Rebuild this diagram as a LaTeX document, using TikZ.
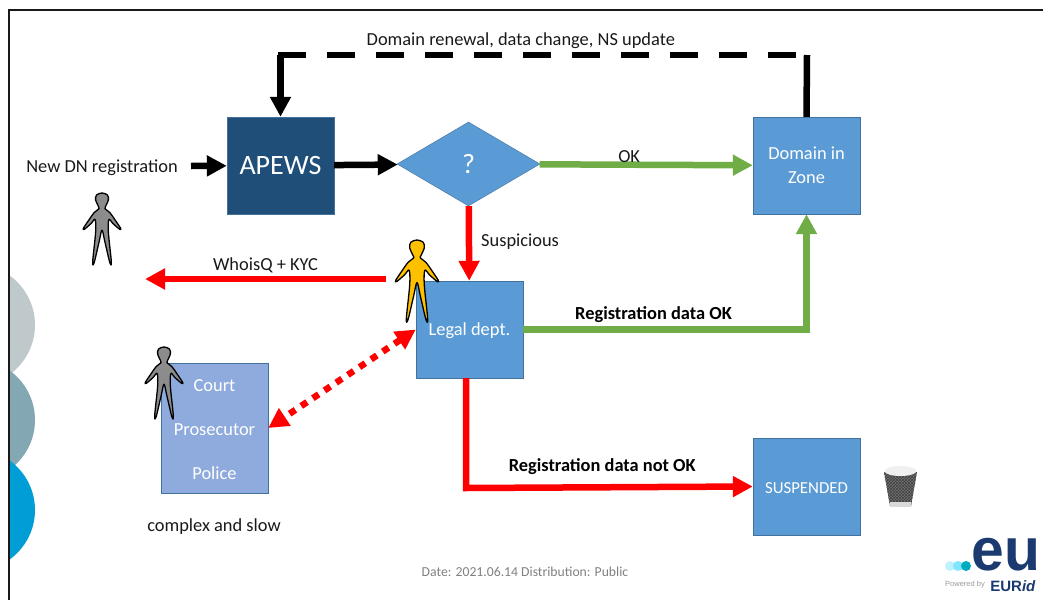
\documentclass[tikz,border=0pt]{standalone}
\usepackage{fontspec}
\setmainfont{Carlito}
\newfontfamily\logofont{Liberation Sans}
\usetikzlibrary{arrows.meta,shapes.geometric,patterns}
\definecolor{apewsblue}{HTML}{1F4E79}
\definecolor{boxblue}{HTML}{5B9BD5}
\definecolor{boxline}{HTML}{41719C}
\definecolor{courtblue}{HTML}{8FAADC}
\definecolor{flowgreen}{HTML}{70AD47}
\definecolor{logoblue}{HTML}{1B3A6F}
\definecolor{personyellow}{HTML}{FFC000}
\tikzset{
  box/.style={draw=boxline,fill=boxblue,text=white,minimum width=107pt,minimum height=97pt,inner sep=0pt,font=\fontsize{18.4}{22}\selectfont,align=center},
  lbl/.style={text=black!90,inner sep=0pt,font=\fontsize{18.4}{22}\selectfont},
  lblbold/.style={lbl,font=\fontsize{18.4}{22}\selectfont\bfseries},
  flow/.style={line width=6.5pt,-{Triangle[length=20pt,width=20pt]}},
  pics/person/.style={code={
    \draw[line width=1.3pt,fill=#1,line join=round] plot[smooth cycle,tension=0.55] coordinates {
      (0,0) (5.5,2) (6.5,7) (3.5,14) (3,16) (8,20) (13,27) (19,36) (18,37) (11,31) (7,27) (6.5,40) (9.5,70) (8,71) (3,50) (0,38)
      (-3,50) (-8,71) (-9.5,70) (-6.5,40) (-7,27) (-11,31) (-18,37) (-19,36) (-13,27) (-8,20) (-3,16) (-3.5,14) (-6.5,7) (-5.5,2)};
  }}
}
\begin{document}
\begin{tikzpicture}[x=1pt,y=-1pt]
\useasboundingbox (0,0) rectangle (1045,600);

\begin{scope}
\clip (9,0) rectangle (60,600);
\fill[fill={rgb,255:red,191;green,201;blue,204}] (-26,325) circle (61);
\fill[fill={rgb,255:red,131;green,167;blue,179}] (-26,420) circle (61);
\fill[fill={rgb,255:red,0;green,157;blue,214}] (-26,510) circle (61);
\end{scope}
\draw[line width=2pt,black!90] (1043,10) -- (9,10) -- (9,600);

\node[box,fill=apewsblue,font=\fontsize{28}{33}\selectfont] (apews) at (280.5,165.5) {APEWS};
\node[box,diamond,aspect=1.7,minimum width=143pt,minimum height=84pt,font=\fontsize{28}{33}\selectfont] (check) at (468.5,164) {?};
\node[box,yshift=0pt] (zone) at (806.5,165.5) {\rule{0pt}{6pt}Domain in\\[2pt]Zone};
\node[box] (legal) at (469.5,329.5) {\rule{0pt}{16pt}Legal dept.};
\node[box,font=\fontsize{16.8}{20}\selectfont] (suspended) at (806.5,486.5) {\rule{0pt}{15pt}SUSPENDED};
\node[box,fill=courtblue,minimum height=130pt,font=\fontsize{18.4}{44}\selectfont] (court) at (214.5,428) {\rule{0pt}{16pt}Court\\Prosecutor\\Police};

\node[lbl] (newdn) at (102,167.5) {New DN registration};
\node[lbl] (slow) at (214,527) {complex and slow};
\node[text=black!50,inner sep=0pt,font=\fontsize{13.7}{16}\selectfont] (date) at (525,572) {Date: 2021.06.14 Distribution: Public};

\coordinate (newdnend) at (191,166);
\coordinate (zoneup) at (807,55);
\coordinate (apewsup) at (280.5,55);
\coordinate (whoisfrom) at (386,279);
\coordinate (whoisto) at (145,279);
\coordinate (legalout) at (466,378);
\coordinate (susp) at (466,488);

\path[flow] (newdnend) edge (apews);
\path[flow] (apews) edge (check);
\draw[line width=6.5pt] (zone.north) -- (zoneup);
\draw[line width=6.5pt,dash pattern=on 28pt off 21pt] (278,55) -- node[lbl,pos=0.459,yshift=14pt] {Domain renewal, data change, NS update} (zoneup);
\path[flow] (apewsup) edge (apews);

\path[flow,flowgreen] (check) edge node[lbl,text=black!90,pos=0.42,yshift=8pt] {OK} (zone);
\draw[flow,flowgreen] (legal.east) -| node[lblbold,text=black,pos=0.23,yshift=15pt] {Registration data OK} (zone.south);

\path[flow,red] (check) edge node[lbl,text=black!90,right=9pt,pos=0.47] {Suspicious} (legal);
\path[flow,red] (whoisfrom) edge node[lbl,text=black!90,pos=0.5,yshift=14pt] {WhoisQ + KYC} (whoisto);
\draw[flow,red] (legalout) -- (susp) -- node[lblbold,text=black,pos=0.475,yshift=21pt] {Registration data not OK} (suspended.west);
\draw[line width=6.5pt,red,dash pattern=on 7pt off 7pt,{Triangle[length=20pt,width=20pt]}-{Triangle[length=20pt,width=20pt]}] (legal.west) -- (court.east);

\pic[scale=0.98] at (102,193) {person={black!45}};
\pic[scale=0.98] at (164,347) {person={black!45}};
\pic[scale=1.12] at (417,240) {person={personyellow}};

\fill[black!55] (884,472) -- (917,472) -- (911,506) -- (890,506) -- cycle;
\fill[pattern=crosshatch,pattern color=black!75] (884,472) -- (917,472) -- (911,506) -- (890,506) -- cycle;
\fill[black!15] (890,502) -- (911,502) -- (911,507) -- (890,507) -- cycle;
\fill[black!6] (900.5,471) ellipse (16 and 5);

\fill[blue!20!cyan!25] (950,566) circle (5);
\fill[blue!20!cyan!50] (958,566) circle (5);
\fill[blue!10!cyan!75!black] (966,566) circle (5);
\node[text=logoblue,inner sep=0pt,xscale=0.98,text depth=0pt,font=\fontsize{60}{64}\logofont\bfseries] (eu) at (1006,554) {eu};
\node[text=black!40,inner sep=0pt,font=\fontsize{7.5}{9}\logofont] (powered) at (965,585) {Powered by};
\node[text=logoblue,inner sep=0pt,font=\fontsize{15}{17}\logofont\bfseries] (eurid) at (1013,586) {EUR\textit{id}};
\end{tikzpicture}
\end{document}
